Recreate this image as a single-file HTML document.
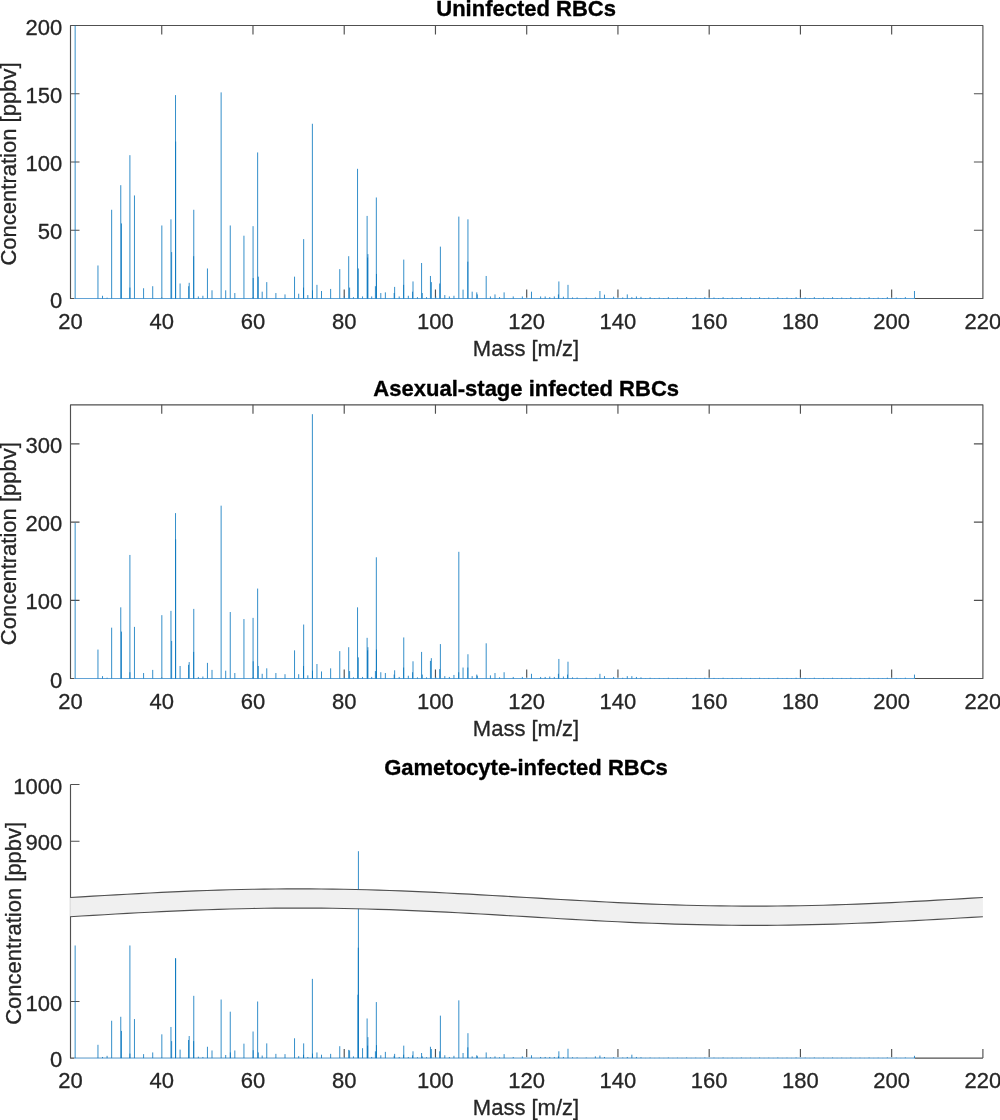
<!DOCTYPE html>
<html lang="en"><head><meta charset="utf-8"><title>Mass spectra of RBC headspace</title>
<style>html,body{margin:0;padding:0;background:#fff}body{width:1000px;height:1120px;overflow:hidden}svg{display:block}</style></head>
<body>
<svg width="1000" height="1120" viewBox="0 0 1000 1120" font-family="Liberation Sans, Arial, Helvetica, sans-serif" font-size="22" fill="#262626" stroke="#262626" stroke-width="0.3" stroke-linejoin="round">
<rect width="1000" height="1120" fill="#fff" stroke="none"/>
<g id="panel1">
<rect x="70.5" y="25.5" width="912.4" height="273" fill="none" stroke="#505050" stroke-width="1.15"/>
<path d="M161.74 298.5v-9M161.74 25.5v9M252.98 298.5v-9M252.98 25.5v9M344.22 298.5v-9M344.22 25.5v9M435.46 298.5v-9M435.46 25.5v9M526.7 298.5v-9M526.7 25.5v9M617.94 298.5v-9M617.94 25.5v9M709.18 298.5v-9M709.18 25.5v9M800.42 298.5v-9M800.42 25.5v9M891.66 298.5v-9M891.66 25.5v9" stroke="#505050" stroke-width="1.15" fill="none"/>
<path d="M70.5 230.25h9M982.9 230.25h-9M70.5 162h9M982.9 162h-9M70.5 93.75h9M982.9 93.75h-9" stroke="#505050" stroke-width="1.15" fill="none"/>
<path d="M161.83 297.5v-9M253.07 297.5v-9" stroke="#fff" stroke-width="2.2" fill="none"/>
<path d="M74.38 298.5H914.7" stroke="#fff" stroke-width="1.6" fill="none"/>
<path d="M74.38 298.5H914.7" stroke="#62a3d6" stroke-width="1" fill="none"/>
<path d="M75.15 298.5V25.5M97.96 298.5V265.47M102.53 298.5V295.77M107.09 298.5V297.68M111.65 298.5V209.78M120.77 298.5V185.2M121.46 298.5V223.43M129.9 298.5V155.18M129.9 298.5V287.58M134.46 298.5V195.44M143.58 298.5V288.26M152.71 298.5V286.21M161.83 298.5V225.47M170.96 298.5V219.33M171.64 298.5V252.09M175.52 298.5V95.12M175.65 298.5V141.53M180.08 298.5V283.49M189.2 298.5V282.8M188.66 298.5V286.21M193.77 298.5V209.78M193.63 298.5V256.19M198.33 298.5V296.45M202.89 298.5V295.77M207.45 298.5V268.47M212.01 298.5V290.31M221.14 298.5V92.38M225.7 298.5V290.31M230.26 298.5V225.47M234.82 298.5V293.04M243.95 298.5V235.71M253.07 298.5V226.16M253.21 298.5V278.02M257.63 298.5V152.44M258.32 298.5V276.66M262.2 298.5V291.68M266.76 298.5V282.12M275.88 298.5V293.04M285.01 298.5V294.4M294.54 298.5V276.66M298.69 298.5V293.72M303.66 298.5V239.12M303.53 298.5V287.58M307.82 298.5V295.09M312.38 298.5V123.78M312.51 298.5V290.31M316.94 298.5V284.85M321.5 298.5V290.99M330.63 298.5V288.94M339.75 298.5V269.15M344.31 298.5V296.45M348.69 298.5V256.19M349.6 298.5V287.58M353.44 298.5V297.13M357.54 298.5V168.82M358.32 298.5V268.47M362.56 298.5V296.45M367.12 298.5V215.92M367.9 298.5V254.14M367.58 298.5V257.55M371.68 298.5V296.45M376.34 298.5V197.49M376.47 298.5V273.93M375.42 298.5V286.21M380.81 298.5V293.04M385.37 298.5V292.36M394.63 298.5V286.9M394.17 298.5V293.04M399.19 298.5V296.45M403.75 298.5V259.6M403.62 298.5V284.85M408.32 298.5V295.77M413.01 298.5V281.44M412.56 298.5V291.68M417.44 298.5V297.13M421.59 298.5V263.01M422.28 298.5V293.04M426.56 298.5V297.13M430.44 298.5V275.98M431.35 298.5V282.12M435.69 298.5V296.45M440.39 298.5V246.63M439.7 298.5V283.49M444.81 298.5V295.09M449.37 298.5V296.45M453.94 298.5V295.77M458.82 298.5V216.6M463.06 298.5V289.63M467.94 298.5V219.33M467.8 298.5V261.64M472.18 298.5V291.68M476.75 298.5V292.36M477.29 298.5V294.4M486.19 298.5V275.98M490.43 298.5V296.45M494.99 298.5V294.4M499.56 298.5V297.13M504.12 298.5V292.36M513.24 298.5V296.45M522.37 298.5V296.45M531.49 298.5V291.68M540.61 298.5V296.45M545.18 298.5V296.45M549.74 298.5V297.13M554.3 298.5V296.45M558.86 298.5V281.44M558.41 298.5V294.4M563.42 298.5V296.73M567.99 298.5V284.85M572.55 298.5V297.41M577.11 298.5V297.41M586.23 298.5V297.68M595.36 298.5V297.41M599.92 298.5V290.99M604.48 298.5V294.68M613.61 298.5V296.73M622.73 298.5V297.41M627.29 298.5V294.4M631.85 298.5V297.13M636.42 298.5V296.45M640.98 298.5V296.86M645.54 298.5V298.09M650.1 298.5V297.13M654.66 298.5V298.09M659.23 298.5V297.54M663.79 298.5V298.09M668.35 298.5V297.13M672.91 298.5V298.09M677.47 298.5V297.54M682.04 298.5V298.09M686.6 298.5V297.13M691.16 298.5V298.09M695.72 298.5V297.54M700.28 298.5V298.09M704.85 298.5V297.13M709.41 298.5V298.09M713.97 298.5V297.54M718.53 298.5V298.09M723.09 298.5V297.13M727.66 298.5V298.09M732.22 298.5V297.54M736.78 298.5V298.09M741.34 298.5V297.13M745.9 298.5V298.09M750.47 298.5V297.54M755.03 298.5V298.09M759.59 298.5V297.13M764.15 298.5V298.09M768.71 298.5V297.54M773.28 298.5V298.09M777.84 298.5V297.13M782.4 298.5V298.09M786.96 298.5V297.54M791.52 298.5V298.09M796.09 298.5V297.13M800.65 298.5V298.09M805.21 298.5V297.54M809.77 298.5V298.09M814.33 298.5V297.13M818.9 298.5V298.09M823.46 298.5V297.54M828.02 298.5V298.09M832.58 298.5V297.13M837.14 298.5V298.09M841.71 298.5V297.54M846.27 298.5V298.09M850.83 298.5V297.13M855.39 298.5V298.09M859.95 298.5V297.54M864.52 298.5V298.09M869.08 298.5V297.13M873.64 298.5V298.09M878.2 298.5V297.54M882.76 298.5V298.09M887.33 298.5V297.13M891.66 298.5V298.09M896.22 298.5V297.54M900.78 298.5V298.09M905.35 298.5V297.13M914.47 298.5V290.99" stroke="#0072BD" stroke-width="0.8" fill="none"/>
<text x="70.5" y="328.7" text-anchor="middle">20</text>
<text x="161.74" y="328.7" text-anchor="middle">40</text>
<text x="252.98" y="328.7" text-anchor="middle">60</text>
<text x="344.22" y="328.7" text-anchor="middle">80</text>
<text x="435.46" y="328.7" text-anchor="middle">100</text>
<text x="526.7" y="328.7" text-anchor="middle">120</text>
<text x="617.94" y="328.7" text-anchor="middle">140</text>
<text x="709.18" y="328.7" text-anchor="middle">160</text>
<text x="800.42" y="328.7" text-anchor="middle">180</text>
<text x="891.66" y="328.7" text-anchor="middle">200</text>
<text x="982.9" y="328.7" text-anchor="middle">220</text>
<text x="62.3" y="307.5" text-anchor="end">0</text>
<text x="62.3" y="239.25" text-anchor="end">50</text>
<text x="62.3" y="171" text-anchor="end">100</text>
<text x="62.3" y="102.75" text-anchor="end">150</text>
<text x="62.3" y="34.5" text-anchor="end">200</text>
<text x="526.1" y="16" text-anchor="middle" font-size="22" font-weight="bold" fill="#000" stroke="#000" stroke-width="0.35">Uninfected RBCs</text>
<text x="526" y="355.7" text-anchor="middle" font-size="22">Mass [m/z]</text>
<text transform="translate(16.2 164) rotate(-90)" text-anchor="middle" font-size="22">Concentration [ppbv]</text>
</g>
<g id="panel2">
<rect x="70.5" y="404.8" width="912.4" height="273.7" fill="none" stroke="#505050" stroke-width="1.15"/>
<path d="M161.74 678.5v-9M161.74 404.8v9M252.98 678.5v-9M252.98 404.8v9M344.22 678.5v-9M344.22 404.8v9M435.46 678.5v-9M435.46 404.8v9M526.7 678.5v-9M526.7 404.8v9M617.94 678.5v-9M617.94 404.8v9M709.18 678.5v-9M709.18 404.8v9M800.42 678.5v-9M800.42 404.8v9M891.66 678.5v-9M891.66 404.8v9" stroke="#505050" stroke-width="1.15" fill="none"/>
<path d="M70.5 600.3h9M982.9 600.3h-9M70.5 522.1h9M982.9 522.1h-9M70.5 443.9h9M982.9 443.9h-9" stroke="#505050" stroke-width="1.15" fill="none"/>
<path d="M161.83 677.5v-9M253.07 677.5v-9" stroke="#fff" stroke-width="2.2" fill="none"/>
<path d="M74.38 678.5H914.7" stroke="#fff" stroke-width="1.6" fill="none"/>
<path d="M74.38 678.5H914.7" stroke="#62a3d6" stroke-width="1" fill="none"/>
<path d="M75.15 678.5V522.88M97.96 678.5V649.57M102.53 678.5V676.15M107.09 678.5V677.72M111.65 678.5V627.67M120.77 678.5V607.34M121.46 678.5V631.58M129.9 678.5V554.94M129.9 678.5V672.24M134.46 678.5V626.89M143.58 678.5V673.03M152.71 678.5V669.9M161.83 678.5V615.16M170.96 678.5V610.86M171.64 678.5V640.96M175.52 678.5V513.11M175.65 678.5V539.3M180.08 678.5V665.99M189.2 678.5V662.08M188.52 678.5V664.82M193.77 678.5V608.9M193.63 678.5V651.91M198.33 678.5V676.94M202.89 678.5V676.54M207.45 678.5V662.86M212.01 678.5V669.9M221.14 678.5V505.68M225.7 678.5V670.68M230.26 678.5V612.03M234.82 678.5V673.03M243.95 678.5V619.07M253.07 678.5V617.89M253.21 678.5V661.3M257.63 678.5V588.57M258.32 678.5V665.99M262.2 678.5V673.81M266.76 678.5V668.33M275.88 678.5V673.03M285.01 678.5V674.2M294.54 678.5V650.35M298.69 678.5V674.2M303.66 678.5V624.54M303.53 678.5V665.99M307.82 678.5V675.37M312.38 678.5V414.18M312.51 678.5V670.68M316.94 678.5V664.03M321.5 678.5V671.46M330.63 678.5V668.33M339.75 678.5V651.13M344.31 678.5V676.94M348.69 678.5V647.22M349.6 678.5V671.07M353.44 678.5V677.33M357.54 678.5V607.34M358.32 678.5V657.39M362.56 678.5V676.94M367.12 678.5V637.84M367.9 678.5V647.22M367.58 678.5V650.35M371.68 678.5V676.94M376.34 678.5V557.29M376.47 678.5V649.57M375.42 678.5V671.07M380.81 678.5V672.24M385.37 678.5V673.03M394.63 678.5V670.29M394.17 678.5V674.59M399.19 678.5V676.94M403.75 678.5V637.45M403.62 678.5V667.55M408.32 678.5V675.76M413.01 678.5V661.3M412.56 678.5V672.24M417.44 678.5V677.33M421.59 678.5V651.91M422.28 678.5V674.59M426.56 678.5V677.33M430.44 678.5V660.9M431.35 678.5V658.17M435.69 678.5V676.94M440.39 678.5V644.09M439.7 678.5V669.12M444.81 678.5V676.15M449.37 678.5V676.94M453.94 678.5V674.98M458.82 678.5V551.82M458.68 678.5V672.24M463.06 678.5V667.55M467.94 678.5V654.26M467.8 678.5V667.55M472.18 678.5V676.15M476.75 678.5V674.59M477.29 678.5V675.76M486.19 678.5V643.31M490.43 678.5V675.37M494.99 678.5V673.03M499.56 678.5V677.33M504.12 678.5V672.24M513.24 678.5V676.94M522.37 678.5V676.94M531.49 678.5V673.81M540.61 678.5V676.94M545.18 678.5V676.94M549.74 678.5V676.54M554.3 678.5V676.94M558.86 678.5V658.95M558.41 678.5V673.81M563.42 678.5V676.54M567.99 678.5V661.69M567.53 678.5V674.59M572.55 678.5V677.33M577.11 678.5V677.56M586.23 678.5V677.72M595.36 678.5V677.72M599.92 678.5V673.81M604.48 678.5V676.15M613.61 678.5V676.94M622.73 678.5V677.72M627.29 678.5V676.15M631.85 678.5V676.15M636.42 678.5V676.94M640.98 678.5V677.33M645.54 678.5V678.27M650.1 678.5V677.72M654.66 678.5V678.27M659.23 678.5V677.95M663.79 678.5V678.27M668.35 678.5V677.72M672.91 678.5V678.27M677.47 678.5V677.95M682.04 678.5V678.27M686.6 678.5V677.72M691.16 678.5V678.27M695.72 678.5V677.95M700.28 678.5V678.27M704.85 678.5V677.72M709.41 678.5V678.27M713.97 678.5V677.95M718.53 678.5V678.27M723.09 678.5V677.72M727.66 678.5V678.27M732.22 678.5V677.95M736.78 678.5V678.27M741.34 678.5V677.72M745.9 678.5V678.27M750.47 678.5V677.95M755.03 678.5V678.27M759.59 678.5V677.72M764.15 678.5V678.27M768.71 678.5V677.95M773.28 678.5V678.27M777.84 678.5V677.72M782.4 678.5V678.27M786.96 678.5V677.95M791.52 678.5V678.27M796.09 678.5V677.72M800.65 678.5V678.27M805.21 678.5V677.95M809.77 678.5V678.27M814.33 678.5V677.72M818.9 678.5V678.27M823.46 678.5V677.95M828.02 678.5V678.27M832.58 678.5V677.72M837.14 678.5V678.27M841.71 678.5V677.95M846.27 678.5V678.27M850.83 678.5V677.72M855.39 678.5V678.27M859.95 678.5V677.95M864.52 678.5V678.27M869.08 678.5V677.72M873.64 678.5V678.27M878.2 678.5V677.95M882.76 678.5V678.27M887.33 678.5V677.72M891.66 678.5V678.27M896.22 678.5V677.95M900.78 678.5V678.27M905.35 678.5V677.72M914.47 678.5V674.59" stroke="#0072BD" stroke-width="0.8" fill="none"/>
<text x="70.5" y="708.7" text-anchor="middle">20</text>
<text x="161.74" y="708.7" text-anchor="middle">40</text>
<text x="252.98" y="708.7" text-anchor="middle">60</text>
<text x="344.22" y="708.7" text-anchor="middle">80</text>
<text x="435.46" y="708.7" text-anchor="middle">100</text>
<text x="526.7" y="708.7" text-anchor="middle">120</text>
<text x="617.94" y="708.7" text-anchor="middle">140</text>
<text x="709.18" y="708.7" text-anchor="middle">160</text>
<text x="800.42" y="708.7" text-anchor="middle">180</text>
<text x="891.66" y="708.7" text-anchor="middle">200</text>
<text x="982.9" y="708.7" text-anchor="middle">220</text>
<text x="62.3" y="687.5" text-anchor="end">0</text>
<text x="62.3" y="609.3" text-anchor="end">100</text>
<text x="62.3" y="531.1" text-anchor="end">200</text>
<text x="62.3" y="452.9" text-anchor="end">300</text>
<text x="526.2" y="395.8" text-anchor="middle" font-size="22" font-weight="bold" fill="#000" stroke="#000" stroke-width="0.35">Asexual-stage infected RBCs</text>
<text x="526" y="735.8" text-anchor="middle" font-size="22">Mass [m/z]</text>
<text transform="translate(16.2 543.65) rotate(-90)" text-anchor="middle" font-size="22">Concentration [ppbv]</text>
</g>
<g id="panel3">
<path d="M70.5 784.5V1058.1H982.9" fill="none" stroke="#505050" stroke-width="1.15"/>
<path d="M161.74 1058.1v-9M252.98 1058.1v-9M344.22 1058.1v-9M435.46 1058.1v-9M526.7 1058.1v-9M617.94 1058.1v-9M709.18 1058.1v-9M800.42 1058.1v-9M891.66 1058.1v-9M982.9 1058.1v-9" stroke="#505050" stroke-width="1.15" fill="none"/>
<path d="M70.5 1001.5h9M70.5 841.2h9M70.5 784.5h9" stroke="#505050" stroke-width="1.15" fill="none"/>
<path d="M161.83 1057.1v-9M253.07 1057.1v-9" stroke="#fff" stroke-width="2.2" fill="none"/>
<path d="M74.38 1058.1H914.7" stroke="#fff" stroke-width="1.6" fill="none"/>
<path d="M74.38 1058.1H914.7" stroke="#62a3d6" stroke-width="1" fill="none"/>
<path d="M75.15 1058.1V945.47M97.96 1058.1V1044.8M102.53 1058.1V1056.97M107.09 1058.1V1055.84M111.65 1058.1V1020.74M120.77 1058.1V1016.78M121.46 1058.1V1030.93M129.9 1058.1V945.47M129.9 1058.1V1053.57M134.46 1058.1V1019.05M143.58 1058.1V1054.14M152.71 1058.1V1052.44M161.83 1058.1V1034.33M170.96 1058.1V1026.97M171.64 1058.1V1041.12M175.52 1058.1V958.2M175.65 1058.1V958.48M180.08 1058.1V1049.61M189.2 1058.1V1036.03M188.52 1058.1V1039.99M193.77 1058.1V995.84M193.63 1058.1V1041.12M198.33 1058.1V1056.68M202.89 1058.1V1056.97M207.45 1058.1V1046.78M212.01 1058.1V1050.46M221.14 1058.1V999.52M225.7 1058.1V1054.99M230.26 1058.1V1011.69M230.4 1058.1V1052.44M234.82 1058.1V1050.46M243.95 1058.1V1043.67M253.07 1058.1V1031.5M253.21 1058.1V1050.18M257.63 1058.1V1001.5M258.32 1058.1V1052.44M262.2 1058.1V1055.55M266.76 1058.1V1043.38M275.88 1058.1V1053.86M285.01 1058.1V1054.14M294.54 1058.1V1038.29M298.69 1058.1V1056.12M303.66 1058.1V1043.38M303.53 1058.1V1054.7M307.82 1058.1V1056.97M312.38 1058.1V978.86M312.51 1058.1V1053.57M316.94 1058.1V1052.44M321.5 1058.1V1054.7M330.63 1058.1V1053.86M339.75 1058.1V1046.21M344.31 1058.1V1056.97M348.69 1058.1V1049.89M349.6 1058.1V1050.46M353.44 1058.1V1056.4M358.41 1058.1V905.28M357.91 1058.1V994.71M358.32 1058.1V947.73M362.56 1058.1V1048.19M367.12 1058.1V1018.48M367.9 1058.1V1037.16M367.58 1058.1V1045.65M371.68 1058.1V1056.97M376.34 1058.1V1002.07M376.47 1058.1V1045.08M375.42 1058.1V1051.31M380.81 1058.1V1055.27M385.37 1058.1V1051.87M394.63 1058.1V1053.86M394.17 1058.1V1055.84M399.19 1058.1V1056.97M403.75 1058.1V1045.65M403.62 1058.1V1054.7M408.32 1058.1V1056.97M413.01 1058.1V1051.31M412.56 1058.1V1055.27M417.44 1058.1V1057.25M421.59 1058.1V1053.01M422.28 1058.1V1056.4M426.56 1058.1V1057.25M430.44 1058.1V1046.78M431.35 1058.1V1049.04M435.69 1058.1V1056.97M440.39 1058.1V1015.65M439.7 1058.1V1051.31M444.81 1058.1V1055.27M449.37 1058.1V1056.97M453.94 1058.1V1055.84M458.82 1058.1V1000.37M463.06 1058.1V1053.01M467.94 1058.1V1033.2M467.8 1058.1V1047.35M472.18 1058.1V1056.4M476.75 1058.1V1055.27M477.29 1058.1V1056.12M486.19 1058.1V1052.44M490.43 1058.1V1057.25M494.99 1058.1V1056.4M499.56 1058.1V1057.25M504.12 1058.1V1054.14M513.24 1058.1V1056.97M522.37 1058.1V1056.4M531.49 1058.1V1055.27M540.61 1058.1V1056.97M545.18 1058.1V1056.97M549.74 1058.1V1056.97M554.3 1058.1V1056.97M558.86 1058.1V1051.31M558.41 1058.1V1056.4M563.42 1058.1V1056.97M567.99 1058.1V1048.76M572.55 1058.1V1057.25M577.11 1058.1V1057.42M586.23 1058.1V1057.53M595.36 1058.1V1056.4M599.92 1058.1V1055.55M604.48 1058.1V1056.97M613.61 1058.1V1057.25M622.73 1058.1V1057.53M627.29 1058.1V1056.97M631.85 1058.1V1054.7M636.42 1058.1V1056.97M640.98 1058.1V1057.25M645.54 1058.1V1057.93M650.1 1058.1V1057.53M654.66 1058.1V1057.93M659.23 1058.1V1057.7M663.79 1058.1V1057.93M668.35 1058.1V1057.53M672.91 1058.1V1057.93M677.47 1058.1V1057.7M682.04 1058.1V1057.93M686.6 1058.1V1057.53M691.16 1058.1V1057.93M695.72 1058.1V1057.7M700.28 1058.1V1057.93M704.85 1058.1V1057.53M709.41 1058.1V1057.93M713.97 1058.1V1057.7M718.53 1058.1V1057.93M723.09 1058.1V1057.53M727.66 1058.1V1057.93M732.22 1058.1V1057.7M736.78 1058.1V1057.93M741.34 1058.1V1057.53M745.9 1058.1V1057.93M750.47 1058.1V1057.7M755.03 1058.1V1057.93M759.59 1058.1V1057.53M764.15 1058.1V1057.93M768.71 1058.1V1057.7M773.28 1058.1V1057.93M777.84 1058.1V1057.53M782.4 1058.1V1057.93M786.96 1058.1V1057.7M791.52 1058.1V1057.93M796.09 1058.1V1057.53M800.65 1058.1V1057.93M805.21 1058.1V1057.7M809.77 1058.1V1057.93M814.33 1058.1V1057.53M818.9 1058.1V1057.93M823.46 1058.1V1057.7M828.02 1058.1V1057.93M832.58 1058.1V1057.53M837.14 1058.1V1057.93M841.71 1058.1V1057.7M846.27 1058.1V1057.93M850.83 1058.1V1057.53M855.39 1058.1V1057.93M859.95 1058.1V1057.7M864.52 1058.1V1057.93M869.08 1058.1V1057.53M873.64 1058.1V1057.93M878.2 1058.1V1057.7M882.76 1058.1V1057.93M887.33 1058.1V1057.53M891.66 1058.1V1057.93M896.22 1058.1V1057.7M900.78 1058.1V1057.93M905.35 1058.1V1057.53M914.47 1058.1V1055.84" stroke="#0072BD" stroke-width="0.8" fill="none"/>
<path d="M70.1 897.52 L81.51 896.84 L92.92 896.17 L104.33 895.5 L115.74 894.85 L127.15 894.21 L138.56 893.59 L149.97 893 L161.38 892.43 L172.79 891.9 L184.2 891.4 L195.61 890.94 L207.02 890.51 L218.43 890.14 L229.84 889.8 L241.25 889.52 L252.66 889.28 L264.07 889.09 L275.48 888.96 L286.89 888.88 L298.3 888.85 L309.71 888.88 L321.12 888.95 L332.53 889.09 L343.94 889.27 L355.35 889.5 L366.76 889.79 L378.17 890.12 L389.58 890.49 L400.99 890.91 L412.4 891.37 L423.81 891.87 L435.22 892.4 L446.63 892.97 L458.04 893.56 L469.45 894.18 L480.86 894.81 L492.27 895.47 L503.68 896.13 L515.09 896.81 L526.5 897.49 L537.91 898.17 L549.32 898.84 L560.73 899.51 L572.14 900.16 L583.55 900.8 L594.96 901.42 L606.37 902.01 L617.78 902.58 L629.19 903.11 L640.6 903.61 L652.01 904.07 L663.42 904.49 L674.83 904.87 L686.24 905.2 L697.65 905.49 L709.06 905.72 L720.47 905.91 L731.88 906.04 L743.29 906.12 L754.7 906.15 L766.11 906.12 L777.52 906.04 L788.93 905.91 L800.34 905.73 L811.75 905.49 L823.16 905.21 L834.57 904.88 L845.98 904.5 L857.39 904.08 L868.8 903.62 L880.21 903.12 L891.62 902.59 L903.03 902.02 L914.44 901.43 L925.85 900.81 L937.26 900.17 L948.67 899.52 L960.08 898.85 L971.49 898.18 L982.9 897.5 L982.9 916.7 L971.49 917.38 L960.08 918.05 L948.67 918.72 L937.26 919.37 L925.85 920.01 L914.44 920.63 L903.03 921.22 L891.62 921.79 L880.21 922.32 L868.8 922.82 L857.39 923.28 L845.98 923.7 L834.57 924.08 L823.16 924.41 L811.75 924.69 L800.34 924.93 L788.93 925.11 L777.52 925.24 L766.11 925.32 L754.7 925.35 L743.29 925.32 L731.88 925.24 L720.47 925.11 L709.06 924.92 L697.65 924.69 L686.24 924.4 L674.83 924.07 L663.42 923.69 L652.01 923.27 L640.6 922.81 L629.19 922.31 L617.78 921.78 L606.37 921.21 L594.96 920.62 L583.55 920 L572.14 919.36 L560.73 918.71 L549.32 918.04 L537.91 917.37 L526.5 916.69 L515.09 916.01 L503.68 915.33 L492.27 914.67 L480.86 914.01 L469.45 913.38 L458.04 912.76 L446.63 912.17 L435.22 911.6 L423.81 911.07 L412.4 910.57 L400.99 910.11 L389.58 909.69 L378.17 909.32 L366.76 908.99 L355.35 908.7 L343.94 908.47 L332.53 908.29 L321.12 908.15 L309.71 908.08 L298.3 908.05 L286.89 908.08 L275.48 908.16 L264.07 908.29 L252.66 908.48 L241.25 908.72 L229.84 909 L218.43 909.34 L207.02 909.71 L195.61 910.14 L184.2 910.6 L172.79 911.1 L161.38 911.63 L149.97 912.2 L138.56 912.79 L127.15 913.41 L115.74 914.05 L104.33 914.7 L92.92 915.37 L81.51 916.04 L70.1 916.72Z" fill="#f0f0f0" stroke="none"/>
<path d="M70.1 897.52 L81.51 896.84 L92.92 896.17 L104.33 895.5 L115.74 894.85 L127.15 894.21 L138.56 893.59 L149.97 893 L161.38 892.43 L172.79 891.9 L184.2 891.4 L195.61 890.94 L207.02 890.51 L218.43 890.14 L229.84 889.8 L241.25 889.52 L252.66 889.28 L264.07 889.09 L275.48 888.96 L286.89 888.88 L298.3 888.85 L309.71 888.88 L321.12 888.95 L332.53 889.09 L343.94 889.27 L355.35 889.5 L366.76 889.79 L378.17 890.12 L389.58 890.49 L400.99 890.91 L412.4 891.37 L423.81 891.87 L435.22 892.4 L446.63 892.97 L458.04 893.56 L469.45 894.18 L480.86 894.81 L492.27 895.47 L503.68 896.13 L515.09 896.81 L526.5 897.49 L537.91 898.17 L549.32 898.84 L560.73 899.51 L572.14 900.16 L583.55 900.8 L594.96 901.42 L606.37 902.01 L617.78 902.58 L629.19 903.11 L640.6 903.61 L652.01 904.07 L663.42 904.49 L674.83 904.87 L686.24 905.2 L697.65 905.49 L709.06 905.72 L720.47 905.91 L731.88 906.04 L743.29 906.12 L754.7 906.15 L766.11 906.12 L777.52 906.04 L788.93 905.91 L800.34 905.73 L811.75 905.49 L823.16 905.21 L834.57 904.88 L845.98 904.5 L857.39 904.08 L868.8 903.62 L880.21 903.12 L891.62 902.59 L903.03 902.02 L914.44 901.43 L925.85 900.81 L937.26 900.17 L948.67 899.52 L960.08 898.85 L971.49 898.18 L982.9 897.5" fill="none" stroke="#505050" stroke-width="1.15"/>
<path d="M70.1 916.72 L81.51 916.04 L92.92 915.37 L104.33 914.7 L115.74 914.05 L127.15 913.41 L138.56 912.79 L149.97 912.2 L161.38 911.63 L172.79 911.1 L184.2 910.6 L195.61 910.14 L207.02 909.71 L218.43 909.34 L229.84 909 L241.25 908.72 L252.66 908.48 L264.07 908.29 L275.48 908.16 L286.89 908.08 L298.3 908.05 L309.71 908.08 L321.12 908.15 L332.53 908.29 L343.94 908.47 L355.35 908.7 L366.76 908.99 L378.17 909.32 L389.58 909.69 L400.99 910.11 L412.4 910.57 L423.81 911.07 L435.22 911.6 L446.63 912.17 L458.04 912.76 L469.45 913.38 L480.86 914.01 L492.27 914.67 L503.68 915.33 L515.09 916.01 L526.5 916.69 L537.91 917.37 L549.32 918.04 L560.73 918.71 L572.14 919.36 L583.55 920 L594.96 920.62 L606.37 921.21 L617.78 921.78 L629.19 922.31 L640.6 922.81 L652.01 923.27 L663.42 923.69 L674.83 924.07 L686.24 924.4 L697.65 924.69 L709.06 924.92 L720.47 925.11 L731.88 925.24 L743.29 925.32 L754.7 925.35 L766.11 925.32 L777.52 925.24 L788.93 925.11 L800.34 924.93 L811.75 924.69 L823.16 924.41 L834.57 924.08 L845.98 923.7 L857.39 923.28 L868.8 922.82 L880.21 922.32 L891.62 921.79 L903.03 921.22 L914.44 920.63 L925.85 920.01 L937.26 919.37 L948.67 918.72 L960.08 918.05 L971.49 917.38 L982.9 916.7" fill="none" stroke="#505050" stroke-width="1.15"/>
<path d="M358.41 889.57V851.2" stroke="#0072BD" stroke-width="0.8" fill="none"/>
<text x="70.5" y="1088.3" text-anchor="middle">20</text>
<text x="161.74" y="1088.3" text-anchor="middle">40</text>
<text x="252.98" y="1088.3" text-anchor="middle">60</text>
<text x="344.22" y="1088.3" text-anchor="middle">80</text>
<text x="435.46" y="1088.3" text-anchor="middle">100</text>
<text x="526.7" y="1088.3" text-anchor="middle">120</text>
<text x="617.94" y="1088.3" text-anchor="middle">140</text>
<text x="709.18" y="1088.3" text-anchor="middle">160</text>
<text x="800.42" y="1088.3" text-anchor="middle">180</text>
<text x="891.66" y="1088.3" text-anchor="middle">200</text>
<text x="982.9" y="1088.3" text-anchor="middle">220</text>
<text x="62.3" y="1067.1" text-anchor="end">0</text>
<text x="62.3" y="1010.5" text-anchor="end">100</text>
<text x="62.3" y="850.2" text-anchor="end">900</text>
<text x="62.3" y="793.5" text-anchor="end">1000</text>
<text x="526" y="775.1" text-anchor="middle" font-size="22" font-weight="bold" fill="#000" stroke="#000" stroke-width="0.35">Gametocyte-infected RBCs</text>
<text x="526" y="1115.4" text-anchor="middle" font-size="22">Mass [m/z]</text>
<text transform="translate(20.6 923.3) rotate(-90)" text-anchor="middle" font-size="22">Concentration [ppbv]</text>
</g>
</svg>
</body></html>
